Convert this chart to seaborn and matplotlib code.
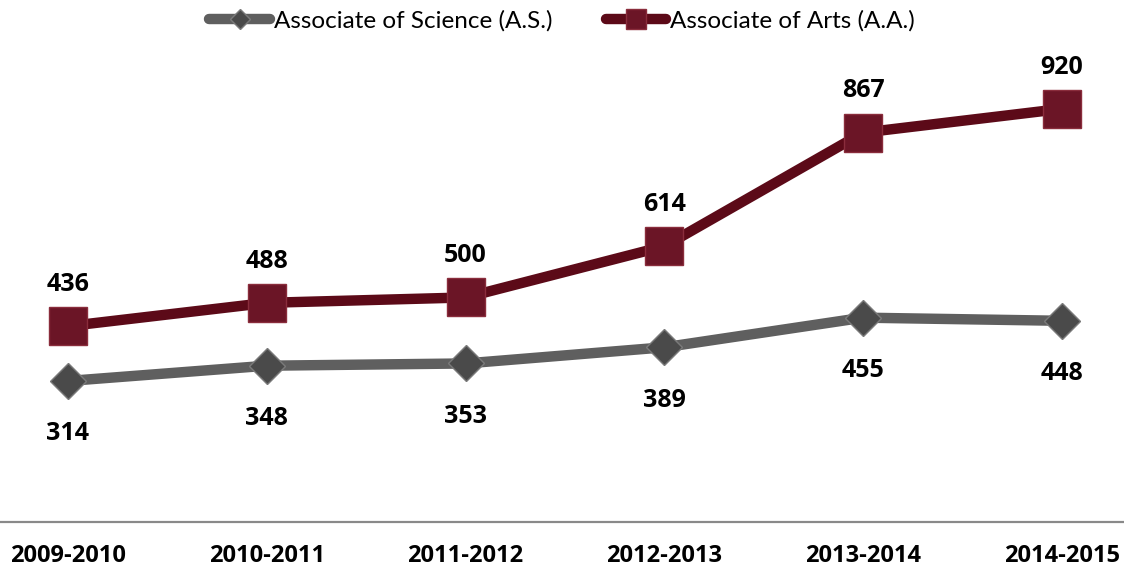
import pandas as pd
import seaborn as sns
import matplotlib.pyplot as plt

years = ["2009-2010", "2010-2011", "2011-2012", "2012-2013", "2013-2014", "2014-2015"]
science = [314, 348, 353, 389, 455, 448]
arts = [436, 488, 500, 614, 867, 920]

sns.set_style("white")
plt.rcParams["font.family"] = ["Lato", "DejaVu Sans"]
plt.rcParams["text.color"] = "black"
plt.rcParams["xtick.color"] = "black"
bold_font = ["Open Sans", "DejaVu Sans"]

df = pd.DataFrame({"year": years, "pos": range(len(years)), "science": science, "arts": arts})

fig = plt.figure(figsize=(11.24, 5.75), dpi=100)
ax = fig.add_axes([0, 0.0922, 1, 0.781])

sns.lineplot(data=df, x="pos", y="science", ax=ax, color="#5f5f5f", linewidth=7.5,
             marker="D", markersize=18, markerfacecolor="#4a4a4a", markeredgecolor="#7a7a7a",
             markeredgewidth=1, label="Associate of Science (A.S.)")
sns.lineplot(data=df, x="pos", y="arts", ax=ax, color="#5c0a18", linewidth=7.5,
             marker="s", markersize=27, markerfacecolor="#6b1526", markeredgecolor="#8a2d3c",
             markeredgewidth=1, label="Associate of Arts (A.A.)")

for i, v in enumerate(science):
    ax.annotate(str(v), (i, v), xytext=(0, -38), textcoords="offset points",
                ha="center", va="center", fontsize=18, fontweight="bold", family=bold_font)
for i, v in enumerate(arts):
    ax.annotate(str(v), (i, v), xytext=(0, 30), textcoords="offset points",
                ha="center", va="center", fontsize=18, fontweight="bold", family=bold_font)

ax.set_xlim(-0.342, 5.312)
ax.set_ylim(0, 1000)
ax.set_xticks(range(len(years)))
ax.set_xticklabels(years, fontsize=17, fontweight="bold", family=bold_font)
ax.tick_params(axis="x", length=0, pad=16)
ax.set_yticks([])
ax.set_xlabel("")
ax.set_ylabel("")
for side in ["left", "right", "top"]:
    ax.spines[side].set_visible(False)
ax.spines["bottom"].set_color("#898989")
ax.spines["bottom"].set_linewidth(1.6)

ax.get_legend().remove()
handles, labels = ax.get_legend_handles_labels()
leg = fig.legend(handles, labels, loc="upper center", bbox_to_anchor=(0.5, 1.02), ncol=2,
                 frameon=False, fontsize=17.5, handlelength=2.5, handletextpad=0.15,
                 columnspacing=2.2, markerscale=0.55)

fig.savefig("out.png", dpi=100)
